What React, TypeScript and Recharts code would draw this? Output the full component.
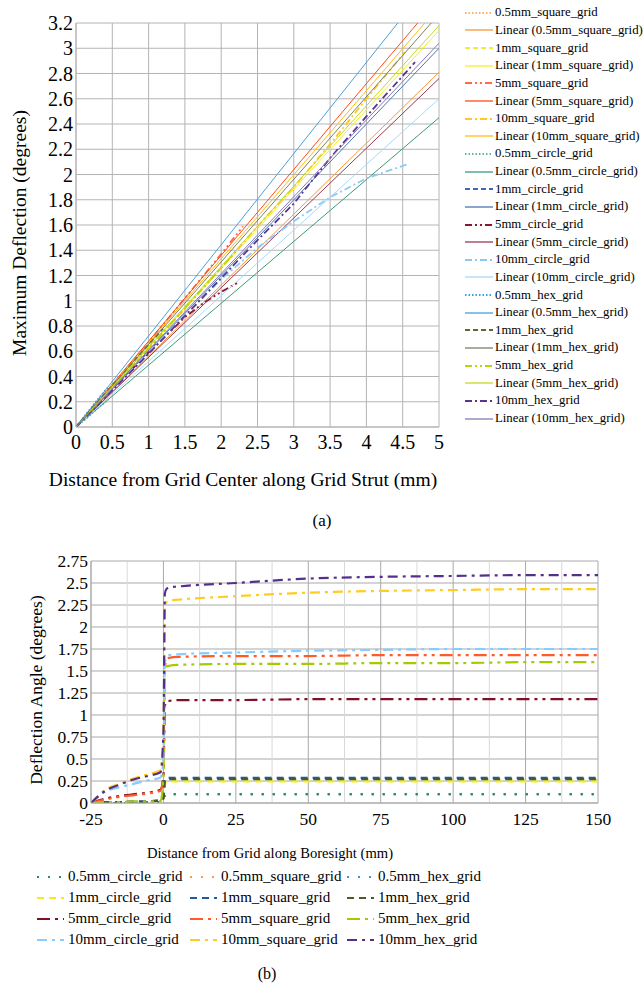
import { LineChart, Line, XAxis, YAxis, CartesianGrid, ReferenceLine } from 'recharts'

const SERIF = "'Liberation Serif', 'DejaVu Serif', serif"

// ---- (a) maximum deflection vs distance along strut: [mm, degrees] ----
const sq05 = [[0, 0], [0.15, 0.08], [0.3, 0.17], [0.45, 0.25]]
const sq1 = [[0, 0], [0.3, 0.19], [0.6, 0.38], [0.9, 0.57], [1.2, 0.76]]
const sq5 = [[0, 0], [0.5, 0.33], [1, 0.67], [1.5, 1.02], [2, 1.37], [2.3, 1.59]]
const sq10 = [[0, 0], [0.5, 0.31], [1, 0.62], [1.5, 0.94], [2, 1.26], [2.5, 1.59], [3, 1.9], [3.5, 2.24], [4, 2.6], [4.53, 2.97]]
const ci05 = [[0, 0], [0.15, 0.07], [0.3, 0.15], [0.45, 0.22]]
const ci1 = [[0, 0], [0.3, 0.18], [0.6, 0.36], [0.9, 0.54], [1.2, 0.72]]
const ci5 = [[0, 0], [0.5, 0.3], [1, 0.59], [1.5, 0.87], [1.75, 0.98], [2, 1.07], [2.25, 1.15]]
const ci10 = [[0, 0], [0.5, 0.3], [1, 0.6], [1.5, 0.88], [2, 1.17], [2.5, 1.42], [3, 1.63], [3.5, 1.82], [4, 1.97], [4.56, 2.08]]
const hx05 = [[0, 0], [0.15, 0.11], [0.3, 0.22], [0.45, 0.32]]
const hx1 = [[0, 0], [0.3, 0.2], [0.6, 0.39], [0.9, 0.59], [1.2, 0.78]]
const hx5 = [[0, 0], [0.5, 0.31], [1, 0.62], [1.5, 0.94], [2, 1.26], [2.2, 1.39]]
const hx10 = [[0, 0], [0.5, 0.29], [1, 0.58], [1.5, 0.88], [2, 1.18], [2.5, 1.48], [3, 1.77], [3.5, 2.13], [4, 2.46], [4.67, 2.89]]

// linear fit values read at x = 5 mm (same order as topSeries)
const fitAt5 = [2.81, 3.14, 3.4, 3.33, 2.45, 3.0, 2.76, 2.6, 3.61, 3.27, 3.18, 3.04]

const strutTicks = [0, 0.5, 1, 1.5, 2, 2.5, 3, 3.5, 4, 4.5, 5]
const maxDefTicks = [0, 0.2, 0.4, 0.6, 0.8, 1, 1.2, 1.4, 1.6, 1.8, 2, 2.2, 2.4, 2.6, 2.8, 3, 3.2]

// ---- (b) deflection angle along boresight ----
const boresightX = [-25, -20, -15, -10, -5, -1, 0, 0.5, 1, 2, 5, 25, 50, 75, 100, 125, 150]
const b_ci05 = [0, 0, 0, 0, 0.01, 0.01, 0.02, 0.09, 0.1, 0.1, 0.1, 0.1, 0.1, 0.1, 0.1, 0.1, 0.1]
const b_sq05 = [0, 0, 0, 0, 0.01, 0.01, 0.02, 0.08, 0.1, 0.1, 0.1, 0.1, 0.1, 0.1, 0.1, 0.1, 0.1]
const b_hx05 = [0, 0, 0, 0, 0.01, 0.01, 0.02, 0.09, 0.1, 0.1, 0.1, 0.1, 0.1, 0.1, 0.1, 0.1, 0.1]
const b_ci1 = [0, 0.01, 0.01, 0.01, 0.02, 0.02, 0.05, 0.22, 0.24, 0.245, 0.245, 0.245, 0.245, 0.245, 0.245, 0.245, 0.245]
const b_sq1 = [0, 0.01, 0.01, 0.02, 0.02, 0.03, 0.06, 0.26, 0.28, 0.285, 0.285, 0.285, 0.285, 0.285, 0.285, 0.285, 0.285]
const b_hx1 = [0, 0.01, 0.01, 0.01, 0.02, 0.03, 0.05, 0.25, 0.27, 0.27, 0.27, 0.27, 0.27, 0.27, 0.27, 0.27, 0.27]
const b_ci5 = [0, 0.05, 0.08, 0.1, 0.12, 0.15, 0.3, 1.1, 1.15, 1.16, 1.17, 1.17, 1.18, 1.18, 1.18, 1.18, 1.18]
const b_sq5 = [0, 0.04, 0.07, 0.09, 0.11, 0.14, 0.35, 1.52, 1.62, 1.65, 1.66, 1.67, 1.67, 1.68, 1.68, 1.68, 1.68]
const b_hx5 = [0, 0.01, 0.01, 0.02, 0.02, 0.02, 0.3, 1.5, 1.55, 1.56, 1.57, 1.58, 1.58, 1.59, 1.59, 1.6, 1.6]
const b_ci10 = [0, 0.13, 0.18, 0.22, 0.26, 0.29, 0.5, 1.6, 1.66, 1.68, 1.69, 1.71, 1.73, 1.74, 1.75, 1.75, 1.75]
const b_sq10 = [0, 0.15, 0.22, 0.28, 0.33, 0.37, 0.7, 2.2, 2.28, 2.3, 2.31, 2.35, 2.39, 2.41, 2.42, 2.43, 2.43]
const b_hx10 = [0, 0.14, 0.21, 0.27, 0.31, 0.35, 0.8, 2.38, 2.43, 2.45, 2.46, 2.5, 2.55, 2.57, 2.58, 2.59, 2.59]

const boreTicks = [-25, 0, 25, 50, 75, 100, 125, 150]
const boreMinor = [-12.5, 12.5, 37.5, 62.5, 87.5, 112.5, 137.5]
const angleTicks = [0, 0.25, 0.5, 0.75, 1, 1.25, 1.5, 1.75, 2, 2.25, 2.5, 2.75]

// dash styles
const T_DOT = '1.5 2'
const T_DASH = '5 3'
const T_DDOT = '7 3 2 3 2 3'
const T_DDASH = '7 3 2 3'

const B_DOT = '2 9'
const B_DASH = '7 5'
const B_DDOT = '13 5 3 5 3 5'
const B_DDASH = '10 5 3 5'

const topSeries = [
  { name: '0.5mm_square_grid', pts: sq05, color: '#ffb060', dash: T_DOT, fitColor: '#f39a3c' },
  { name: '1mm_square_grid', pts: sq1, color: '#f2ee30', dash: T_DASH, fitColor: '#f5f020' },
  { name: '5mm_square_grid', pts: sq5, color: '#ff6a45', dash: T_DDOT, fitColor: '#ff4a18' },
  { name: '10mm_square_grid', pts: sq10, color: '#ffc828', dash: T_DDASH, fitColor: '#ffbb10' },
  { name: '0.5mm_circle_grid', pts: ci05, color: '#5fb89a', dash: T_DOT, fitColor: '#3f9a78' },
  { name: '1mm_circle_grid', pts: ci1, color: '#3a6ea8', dash: T_DASH, fitColor: '#4a78b0' },
  { name: '5mm_circle_grid', pts: ci5, color: '#8e1530', dash: T_DDOT, fitColor: '#9a3a50' },
  { name: '10mm_circle_grid', pts: ci10, color: '#8ccaf5', dash: T_DDASH, fitColor: '#a8d8fa' },
  { name: '0.5mm_hex_grid', pts: hx05, color: '#3aa0e0', dash: T_DOT, fitColor: '#4a9fd8' },
  { name: '1mm_hex_grid', pts: hx1, color: '#5a6a38', dash: T_DASH, fitColor: '#7a8060' },
  { name: '5mm_hex_grid', pts: hx5, color: '#b8d410', dash: T_DDOT, fitColor: '#c8d820' },
  { name: '10mm_hex_grid', pts: hx10, color: '#5a3590', dash: T_DDASH, fitColor: '#8a78b8' },
]

const bottomSeries = [
  { key: 'ci05', name: '0.5mm_circle_grid', vals: b_ci05, color: '#2e8b60', dash: B_DOT },
  { key: 'sq05', name: '0.5mm_square_grid', vals: b_sq05, color: '#ff9a40', dash: B_DOT },
  { key: 'hx05', name: '0.5mm_hex_grid', vals: b_hx05, color: '#3399dd', dash: B_DOT },
  { key: 'ci1', name: '1mm_circle_grid', vals: b_ci1, color: '#f5ee10', dash: B_DASH },
  { key: 'sq1', name: '1mm_square_grid', vals: b_sq1, color: '#1f5a9a', dash: B_DASH },
  { key: 'hx1', name: '1mm_hex_grid', vals: b_hx1, color: '#4a5a28', dash: B_DASH },
  { key: 'ci5', name: '5mm_circle_grid', vals: b_ci5, color: '#801028', dash: B_DDOT },
  { key: 'sq5', name: '5mm_square_grid', vals: b_sq5, color: '#ff5a28', dash: B_DDOT },
  { key: 'hx5', name: '5mm_hex_grid', vals: b_hx5, color: '#a8c800', dash: B_DDOT },
  { key: 'ci10', name: '10mm_circle_grid', vals: b_ci10, color: '#88ccff', dash: B_DDASH },
  { key: 'sq10', name: '10mm_square_grid', vals: b_sq10, color: '#ffcc22', dash: B_DDASH },
  { key: 'hx10', name: '10mm_hex_grid', vals: b_hx10, color: '#55308a', dash: B_DDASH },
]

// draw the 0.5mm circle series on top of the other 0.5mm ones
const bottomDrawOrder = [1, 2, 0, 3, 4, 5, 6, 7, 8, 9, 10, 11]

const boreRows = boresightX.map((x, i) => {
  const row: Record<string, number> = { x }
  bottomSeries.forEach((s) => { row[s.key] = s.vals[i] })
  return row
})

const toXY = (pts: number[][]) => pts.map(([x, y]) => ({ x, y }))

function TopLegend() {
  const rows: { label: string; color: string; dash?: string; w: number }[] = []
  topSeries.forEach((s) => {
    rows.push({ label: s.name, color: s.color, dash: s.dash, w: 1.8 })
    rows.push({ label: `Linear (${s.name})`, color: s.fitColor, w: 1.3 })
  })
  return (
    <div style={{ position: 'absolute', left: 465, top: 4, fontFamily: SERIF, fontSize: 12.8, color: '#000' }}>
      {rows.map((r, i) => (
        <div key={i} style={{ display: 'flex', alignItems: 'center', height: 17.65, whiteSpace: 'nowrap' }}>
          <svg width={28} height={6} style={{ marginRight: 2 }}>
            <line x1={0} y1={3} x2={28} y2={3} stroke={r.color} strokeWidth={r.w} strokeDasharray={r.dash} />
          </svg>
          <span>{r.label}</span>
        </div>
      ))}
    </div>
  )
}

function BottomLegend() {
  const cols = [37, 190, 347]
  return (
    <div style={{ position: 'absolute', left: 0, top: 866, fontFamily: SERIF, fontSize: 15, color: '#000' }}>
      {bottomSeries.map((s, i) => {
        const col = i % 3
        const row = Math.floor(i / 3)
        return (
          <div key={s.key} style={{ position: 'absolute', left: cols[col], top: row * 21, display: 'flex', alignItems: 'center', height: 21, whiteSpace: 'nowrap' }}>
            <svg width={27} height={6} style={{ marginRight: 4 }}>
              <line x1={0} y1={3} x2={27} y2={3} stroke={s.color} strokeWidth={2.2} strokeDasharray={s.dash} />
            </svg>
            <span>{s.name}</span>
          </div>
        )
      })}
    </div>
  )
}

function Rotated({ cx, cy, size, text }: { cx: number; cy: number; size: number; text: string }) {
  return (
    <div
      style={{
        position: 'absolute', left: cx - 200, top: cy - 12, width: 400, height: 24, lineHeight: '24px',
        textAlign: 'center', transform: 'rotate(-90deg)', fontFamily: SERIF, fontSize: size, color: '#000', whiteSpace: 'nowrap',
      }}
    >
      {text}
    </div>
  )
}

function Centered({ cx, cy, size, text }: { cx: number; cy: number; size: number; text: string }) {
  return (
    <div
      style={{
        position: 'absolute', left: cx - 300, top: cy - 12, width: 600, height: 24, lineHeight: '24px',
        textAlign: 'center', fontFamily: SERIF, fontSize: size, color: '#000', whiteSpace: 'nowrap',
      }}
    >
      {text}
    </div>
  )
}

export default function App() {
  const topTick = { fontSize: 20, fill: '#000', fontFamily: SERIF }
  const botTick = { fontSize: 17.5, fill: '#000', fontFamily: SERIF }
  return (
    <div style={{ position: 'absolute', left: 0, top: 0, width: 644, height: 984, background: '#fff', overflow: 'hidden' }}>
      <div style={{ position: 'absolute', left: 0, top: 0 }}>
        <LineChart width={644} height={500} margin={{ top: 23, right: 205, bottom: 43, left: 16 }}>
          <CartesianGrid stroke="#b4b4b4" strokeWidth={1} />
          <XAxis
            type="number" dataKey="x" domain={[0, 5]} ticks={strutTicks} allowDataOverflow
            tick={topTick} tickLine={false} axisLine={{ stroke: '#b4b4b4' }} interval={0}
          />
          <YAxis
            type="number" domain={[0, 3.2]} ticks={maxDefTicks} allowDataOverflow width={60}
            tick={topTick} tickLine={false} tickSize={2} tickMargin={1} axisLine={{ stroke: '#b4b4b4' }} interval={0}
          />
          {topSeries.flatMap((s, i) => [
            <Line
              key={`d-${s.name}`} data={toXY(s.pts)} dataKey="y" name={s.name} type="linear"
              stroke={s.color} strokeWidth={1.8} strokeDasharray={s.dash} dot={false} isAnimationActive={false}
            />,
            <Line
              key={`f-${s.name}`} data={[{ x: 0, y: 0 }, { x: 5, y: fitAt5[i] }]} dataKey="y" name={`Linear (${s.name})`}
              type="linear" stroke={s.fitColor} strokeWidth={1} dot={false} isAnimationActive={false}
            />,
          ])}
        </LineChart>
      </div>
      <Rotated cx={20} cy={233} size={19.5} text="Maximum Deflection (degrees)" />
      <Centered cx={243} cy={480} size={19.5} text="Distance from Grid Center along Grid Strut (mm)" />
      <Centered cx={322} cy={521} size={17} text="(a)" />
      <TopLegend />

      <div style={{ position: 'absolute', left: 0, top: 540 }}>
        <LineChart width={644} height={300} data={boreRows} margin={{ top: 21, right: 46, bottom: 7, left: 31 }}>
          <CartesianGrid stroke="#a9a9a9" strokeWidth={1} />
          {boreMinor.map((v) => (
            <ReferenceLine key={v} x={v} stroke="#d9d9d9" strokeWidth={1} />
          ))}
          <XAxis
            type="number" dataKey="x" domain={[-25, 150]} ticks={boreTicks} allowDataOverflow
            tick={botTick} tickLine={false} tickMargin={4} axisLine={{ stroke: '#a9a9a9' }} interval={0}
          />
          <YAxis
            type="number" domain={[0, 2.75]} ticks={angleTicks} allowDataOverflow width={60}
            tick={botTick} tickLine={false} tickSize={2} tickMargin={1} axisLine={{ stroke: '#a9a9a9' }} interval={0}
          />
          {bottomDrawOrder.map((idx) => {
            const s = bottomSeries[idx]
            return (
              <Line
                key={s.key} dataKey={s.key} name={s.name} type="monotone" stroke={s.color}
                strokeWidth={2.2} strokeDasharray={s.dash} dot={false} isAnimationActive={false}
              />
            )
          })}
        </LineChart>
      </div>
      <Rotated cx={36} cy={690} size={17.5} text="Deflection Angle (degrees)" />
      <Centered cx={270} cy={853} size={14.6} text="Distance from Grid along Boresight (mm)" />
      <BottomLegend />
      <Centered cx={267} cy={974} size={16} text="(b)" />
    </div>
  )
}
